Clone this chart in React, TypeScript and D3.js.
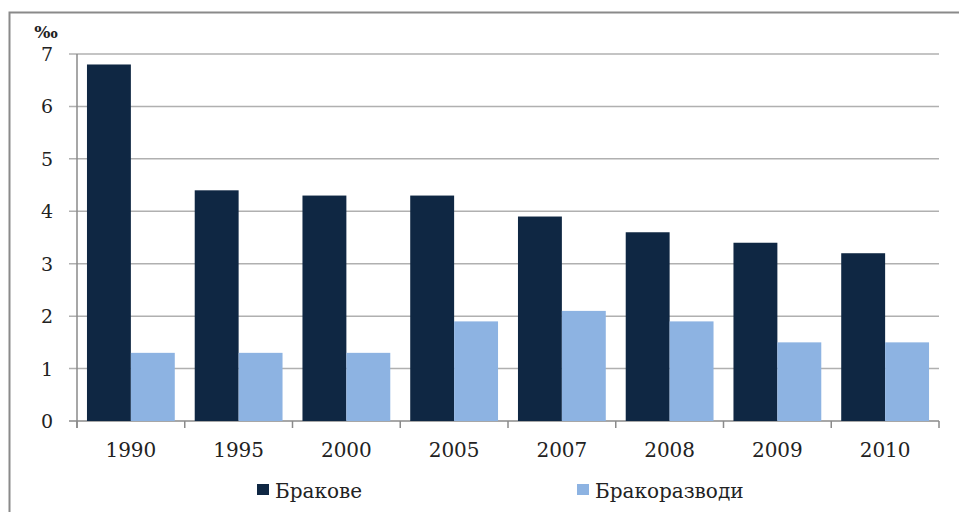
import { useEffect, useRef } from "react";
import * as d3 from "d3";

const years = ["1990", "1995", "2000", "2005", "2007", "2008", "2009", "2010"];
const marriages = [6.8, 4.4, 4.3, 4.3, 3.9, 3.6, 3.4, 3.2];
const divorces = [1.3, 1.3, 1.3, 1.9, 2.1, 1.9, 1.5, 1.5];
const seriesNames = ["Бракове", "Бракоразводи"];
const yTicks = [0, 1, 2, 3, 4, 5, 6, 7];

const W = 959;
const H = 512;
const colors = ["#0f2743", "#8db3e2"];
const font = "'DejaVu Serif', 'Liberation Serif', serif";

export default function App() {
  const ref = useRef<SVGSVGElement>(null);

  useEffect(() => {
    const svg = d3.select(ref.current);
    svg.selectAll("*").remove();

    const left = 77, right = 939, top = 54, bottom = 421;

    const x = d3.scaleBand().domain(years).range([left, right]).paddingInner(0.185).paddingOuter(0.0925);
    const inner = d3.scaleBand().domain(seriesNames).range([0, x.bandwidth()]);
    const y = d3.scaleLinear().domain([0, 7]).range([bottom, top]);

    // frame
    svg.append("path")
      .attr("d", `M9.5,${H} L9.5,12.5 L${W},12.5`)
      .attr("fill", "none").attr("stroke", "#8a8a8a").attr("stroke-width", 2);

    // gridlines
    svg.append("g").selectAll("line").data(yTicks).join("line")
      .attr("x1", left - 8).attr("x2", right)
      .attr("y1", d => y(d)).attr("y2", d => y(d))
      .attr("stroke", d => d === 0 ? "#8a8a8a" : "#b0b0b0").attr("stroke-width", 1.5);

    svg.append("g").selectAll("text").data(yTicks).join("text")
      .attr("x", 53).attr("y", d => y(d) + 7)
      .attr("text-anchor", "end")
      .attr("font-family", font).attr("font-size", 19).attr("fill", "#222")
      .text(d => d);

    svg.append("text").attr("x", 46).attr("y", 38).attr("text-anchor", "middle")
      .attr("font-family", font).attr("font-size", 17).attr("font-weight", "bold").attr("fill", "#222")
      .text("‰");

    // y axis line
    svg.append("line").attr("x1", left).attr("x2", left).attr("y1", top).attr("y2", bottom + 7)
      .attr("stroke", "#8a8a8a").attr("stroke-width", 1.5);

    // x ticks
    const step = x.step();
    svg.append("g").selectAll("line").data(d3.range(years.length + 1)).join("line")
      .attr("x1", i => left + i * step).attr("x2", i => left + i * step)
      .attr("y1", bottom).attr("y2", bottom + 7)
      .attr("stroke", "#8a8a8a").attr("stroke-width", 1.5);

    const data = [marriages, divorces];
    data.forEach((vals, si) => {
      svg.append("g").selectAll("rect").data(vals).join("rect")
        .attr("x", (_, i) => (x(years[i]) as number) + (inner(seriesNames[si]) as number))
        .attr("width", inner.bandwidth())
        .attr("y", d => y(d))
        .attr("height", d => y(0) - y(d))
        .attr("fill", colors[si]);
    });

    svg.append("g").selectAll("text").data(years).join("text")
      .attr("x", d => (x(d) as number) + x.bandwidth() / 2)
      .attr("y", 457)
      .attr("text-anchor", "middle")
      .attr("font-family", font).attr("font-size", 20).attr("fill", "#222")
      .text(d => d);

    // legend
    const legendX = [257, 577];
    seriesNames.forEach((name, i) => {
      svg.append("rect").attr("x", legendX[i]).attr("y", 484).attr("width", 12).attr("height", 11)
        .attr("fill", colors[i]);
      svg.append("text").attr("x", legendX[i] + 18).attr("y", 498)
        .attr("font-family", font).attr("font-size", 20).attr("fill", "#222")
        .text(name);
    });
  }, []);

  return (
    <svg ref={ref} width={W} height={H}
      style={{ position: "absolute", left: 0, top: 0, background: "#fff" }} />
  );
}
